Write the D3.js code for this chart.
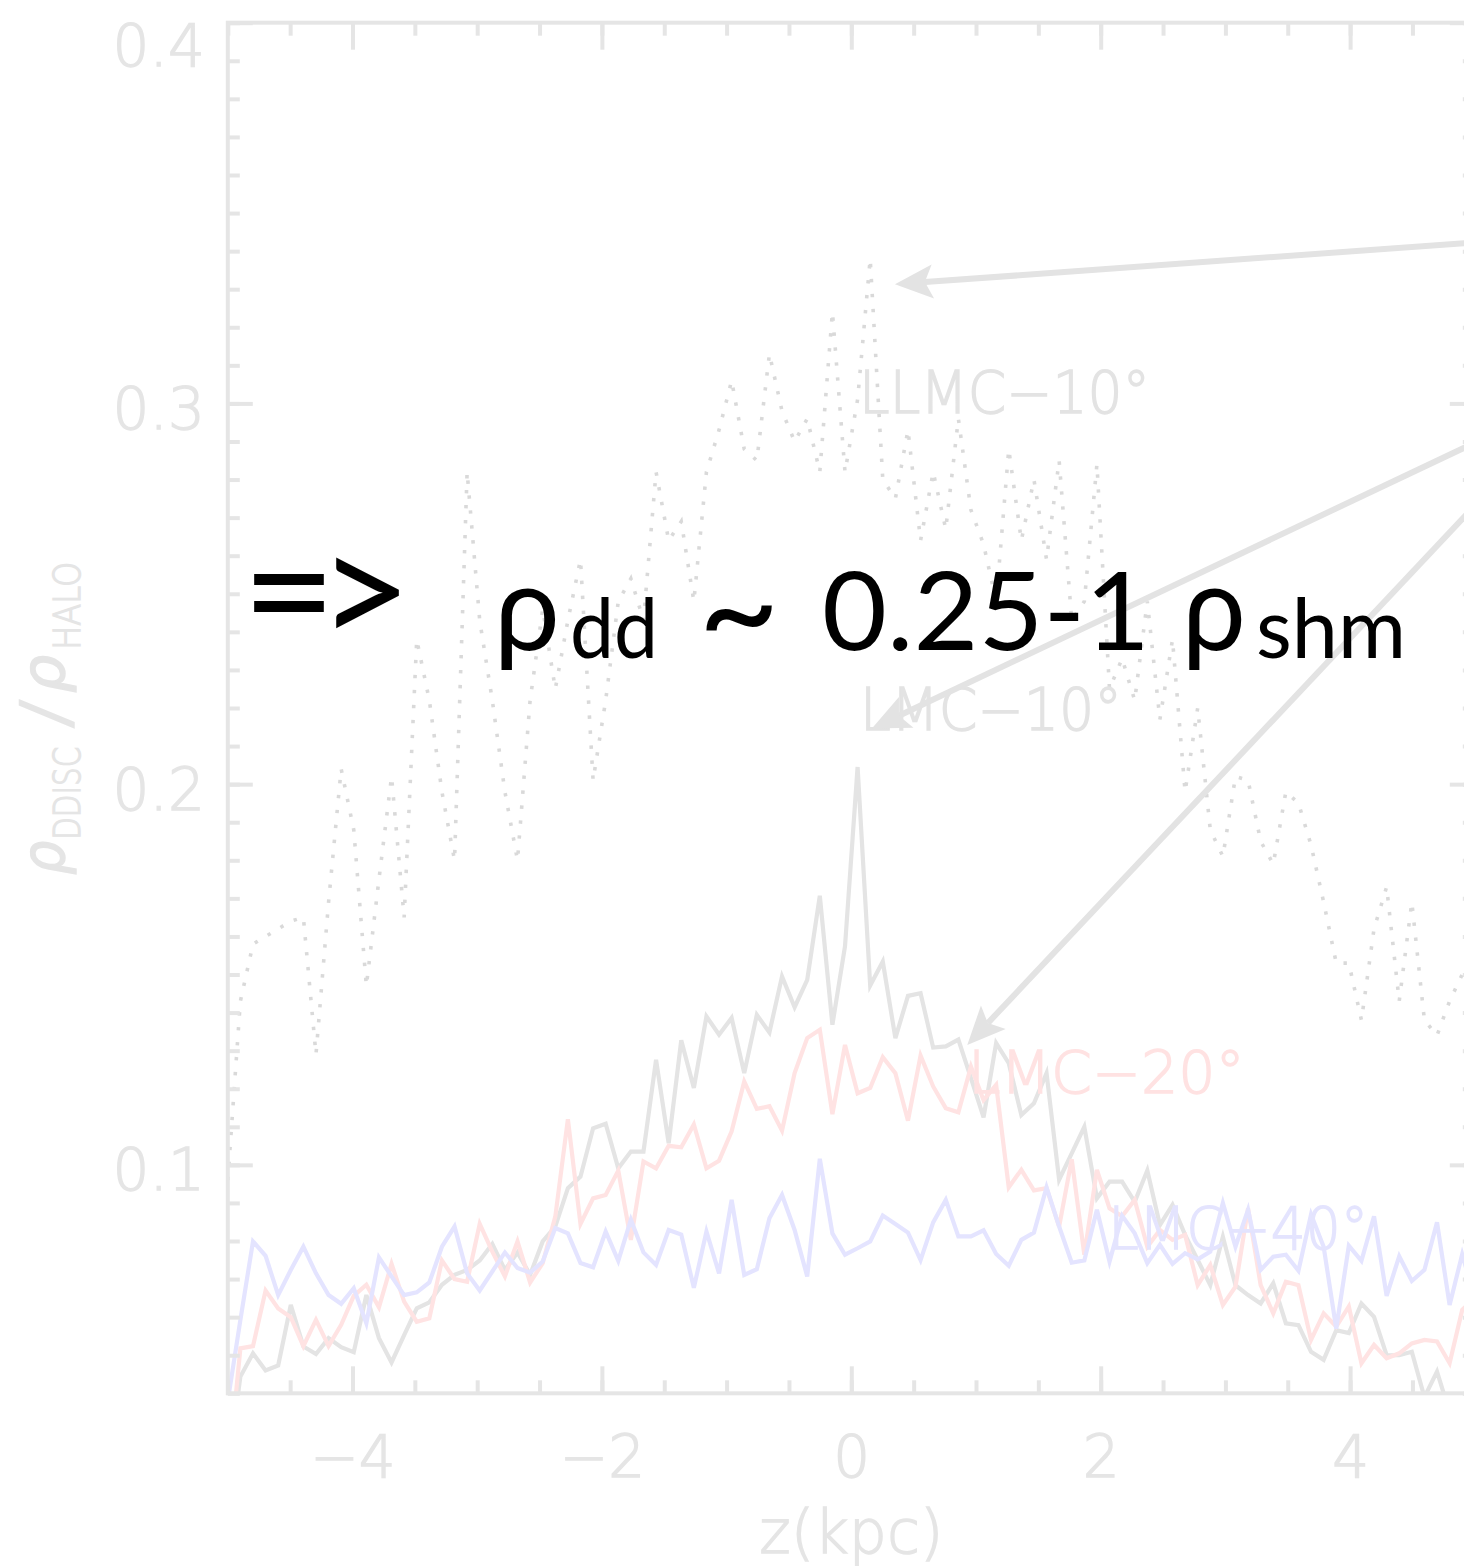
<!DOCTYPE html>
<html>
<head>
<meta charset="utf-8">
<script src="https://cdn.jsdelivr.net/npm/d3@7"></script>
<style>
  html, body { margin: 0; padding: 0; background: #fff; }
  svg { display: block; }
</style>
</head>
<body>
<svg id="chart" width="1464" height="1566"></svg>
<script>
// Sampling grid along z (kpc): 100 samples spanning the full window
const zGrid = d3.range(100).map(i => -5 + i * 10 / 99);

// rho_DDISC / rho_HALO profiles
const llmc10 = [
  0.096, 0.143, 0.158, 0.160, 0.162, 0.164, 0.165, 0.129, 0.169, 0.204,
  0.188, 0.147, 0.175, 0.202, 0.165, 0.238, 0.222, 0.198, 0.180, 0.282,
  0.243, 0.222, 0.198, 0.180, 0.222, 0.246, 0.225, 0.243, 0.259, 0.201,
  0.222, 0.248, 0.254, 0.243, 0.282, 0.264, 0.269, 0.248, 0.282, 0.293,
  0.306, 0.288, 0.285, 0.313, 0.298, 0.290, 0.296, 0.282, 0.324, 0.282,
  0.301, 0.338, 0.280, 0.275, 0.293, 0.264, 0.282, 0.267, 0.296, 0.272,
  0.263, 0.248, 0.288, 0.264, 0.280, 0.259, 0.285, 0.243, 0.248, 0.284,
  0.225, 0.233, 0.222, 0.248, 0.217, 0.238, 0.198, 0.220, 0.188, 0.181,
  0.202, 0.201, 0.185, 0.179, 0.198, 0.195, 0.184, 0.169, 0.153, 0.153,
  0.138, 0.162, 0.173, 0.143, 0.169, 0.138, 0.134, 0.143, 0.150, 0.155
];
const lmc10 = [
  0.020, 0.0444, 0.0505, 0.0460, 0.0473, 0.0632, 0.0523, 0.0503, 0.0545, 0.0521,
  0.0508, 0.0658, 0.0545, 0.0481, 0.0553, 0.0623, 0.0639, 0.0685, 0.0711, 0.0724,
  0.0749, 0.0792, 0.0724, 0.0770, 0.0711, 0.0799, 0.0838, 0.0939, 0.0969, 0.1096,
  0.1108, 0.0991, 0.1035, 0.1035, 0.1276, 0.1057, 0.1327, 0.1202, 0.1390, 0.1342,
  0.1386, 0.1241, 0.1394, 0.1348, 0.1495, 0.1414, 0.1486, 0.1707, 0.1368, 0.1574,
  0.2045, 0.1471, 0.1534, 0.1333, 0.1444, 0.1451, 0.1308, 0.1311, 0.1329, 0.1228,
  0.1125, 0.1320, 0.1267, 0.1131, 0.1162, 0.1241, 0.0961, 0.1030, 0.1100, 0.0912,
  0.0956, 0.0956, 0.0903, 0.0985, 0.0842, 0.0895, 0.0816, 0.0750, 0.0684, 0.0811,
  0.0684, 0.0658, 0.0636, 0.0689, 0.0584, 0.0579, 0.0509, 0.0488, 0.0566, 0.0558,
  0.0636, 0.0601, 0.0500, 0.0500, 0.0509, 0.0390, 0.0457, 0.0350, 0.0360, 0.0380
];
const lmc20 = [
  0.018, 0.0518, 0.0524, 0.0670, 0.0623, 0.0600, 0.0524, 0.0593, 0.0524, 0.0580,
  0.0656, 0.0685, 0.0626, 0.0740, 0.0641, 0.0588, 0.0597, 0.0749, 0.0700, 0.0693,
  0.0845, 0.0772, 0.0707, 0.0799, 0.0691, 0.0742, 0.0864, 0.1120, 0.0845, 0.0912,
  0.0921, 0.0985, 0.0803, 0.1009, 0.0991, 0.1050, 0.1046, 0.1106, 0.0991, 0.1011,
  0.1088, 0.1219, 0.1147, 0.1154, 0.1090, 0.1241, 0.1333, 0.1355, 0.1133, 0.1315,
  0.1188, 0.1202, 0.1283, 0.1241, 0.1116, 0.1287, 0.1206, 0.1149, 0.1138, 0.1258,
  0.1170, 0.1210, 0.0941, 0.0987, 0.0933, 0.0939, 0.0838, 0.1015, 0.0764, 0.0987,
  0.0886, 0.0865, 0.0908, 0.0785, 0.0829, 0.0803, 0.0816, 0.0684, 0.0737, 0.0632,
  0.0680, 0.0886, 0.0684, 0.0610, 0.0693, 0.0684, 0.0540, 0.0610, 0.0575, 0.0628,
  0.0479, 0.0527, 0.0492, 0.0505, 0.0531, 0.0540, 0.0536, 0.0479, 0.0619, 0.0650
];
const lmc40 = [
  0.038, 0.0593, 0.0799, 0.0761, 0.0658, 0.0724, 0.0785, 0.0715, 0.0658, 0.0635,
  0.0676, 0.0584, 0.0757, 0.0707, 0.0658, 0.0665, 0.0691, 0.0785, 0.0838, 0.0715,
  0.0670, 0.0720, 0.0770, 0.0729, 0.0717, 0.0746, 0.0834, 0.0820, 0.0742, 0.0731,
  0.0825, 0.0748, 0.0856, 0.0770, 0.0737, 0.0829, 0.0817, 0.0677, 0.0825, 0.0715,
  0.0908, 0.0711, 0.0726, 0.0860, 0.0921, 0.0829, 0.0707, 0.1016, 0.0820, 0.0764,
  0.0781, 0.0799, 0.0867, 0.0845, 0.0822, 0.0750, 0.0849, 0.0908, 0.0812, 0.0812,
  0.0828, 0.0766, 0.0735, 0.0803, 0.0822, 0.0941, 0.0838, 0.0743, 0.0749, 0.0882,
  0.0746, 0.0866, 0.0820, 0.0742, 0.0790, 0.0740, 0.0768, 0.0752, 0.0772, 0.0900,
  0.0785, 0.0882, 0.0724, 0.0759, 0.0764, 0.0722, 0.0870, 0.0785, 0.0570, 0.0788,
  0.0748, 0.0865, 0.0656, 0.0760, 0.0695, 0.0724, 0.0849, 0.0632, 0.0765, 0.0650
];

// Axis ticks
const xMajorTicks = [-4, -2, 0, 2, 4];
const xMinorTicks = d3.range(-5, 5.01, 0.5);
const yMajorTicks = [0.1, 0.2, 0.3, 0.4];
const yMinorTicks = d3.range(4, 41).map(k => k / 100);

// Curve labels: [text, z, rho, colour, width]
const curveLabels = [
  ["LLMC\u221210\u00b0", 0.062, 0.2976, "#e3e3e3", 291],
  ["LMC\u221210\u00b0", 0.07, 0.2141, "#e3e3e3", 262],
  ["LMC\u221220\u00b0", 0.935, 0.1190, "#ffe2e2", 277],
  ["LMC\u221240\u00b0", 2.06, 0.0779, "#e4e4fe", 260]
];
// Pointer arrows: tail (z, rho) -> head (z, rho)
const pointers = [
  [[5.6, 0.3437], [0.35, 0.3313]],
  [[5.6, 0.2990], [0.165, 0.2146]],
  [[5.6, 0.2940], [0.93, 0.1315]]
];

const svg = d3.select("#chart");
const W = 1464, H = 1566;
svg.append("rect").attr("width", W).attr("height", H).attr("fill", "#fff");

const pL = 227.8, pR = 1474.8, pT = 22.7, pB = 1393.3;
const x = d3.scaleLinear().domain([-5, 5]).range([pL, pR]);
const y = d3.scaleLinear().domain([0.04, 0.4]).range([pB, pT]);

const axisCol = "#e5e5e5";
const labelFont = "'DejaVu Sans', sans-serif";
const labelWeight = 200;

// Light label text, thickened slightly with a matching outline
function lightText(sel, col) {
  return sel.attr("font-family", labelFont).attr("font-weight", labelWeight)
    .attr("fill", col).attr("stroke", col).attr("stroke-width", 1.4);
}

svg.append("defs").append("clipPath").attr("id", "plotclip")
  .append("rect").attr("x", pL).attr("y", pT)
  .attr("width", pR - pL).attr("height", pB - pT);

// Curves
const line = d3.line().x((d, i) => x(zGrid[i])).y(d => y(d));
const plot = svg.append("g").attr("clip-path", "url(#plotclip)");

plot.append("path").datum(llmc10).attr("d", line)
  .attr("fill", "none").attr("stroke", "#d9d9d9").attr("stroke-width", 3.6)
  .attr("stroke-dasharray", "3.4 11.6");
plot.append("path").datum(lmc10).attr("d", line)
  .attr("fill", "none").attr("stroke", "#e4e4e4").attr("stroke-width", 4.2);
plot.append("path").datum(lmc20).attr("d", line)
  .attr("fill", "none").attr("stroke", "#ffe3e3").attr("stroke-width", 4.2);
plot.append("path").datum(lmc40).attr("d", line)
  .attr("fill", "none").attr("stroke", "#e4e4ff").attr("stroke-width", 4.2);

// Frame and ticks (inward, mirrored on all sides)
function styleAxis(g) {
  g.select(".domain").remove();
  g.selectAll(".tick line").attr("stroke", axisCol).attr("stroke-width", 4);
  g.selectAll("text").call(lightText, axisCol).attr("font-size", 58);
}

svg.append("g").attr("transform", `translate(0,${pB})`)
  .call(d3.axisBottom(x).tickValues(xMinorTicks).tickSize(-13).tickFormat(""))
  .call(styleAxis);
svg.append("g").attr("transform", `translate(0,${pB})`)
  .call(d3.axisBottom(x).tickValues(xMajorTicks).tickSize(-27).tickPadding(43))
  .call(styleAxis);
svg.append("g").attr("transform", `translate(0,${pT})`)
  .call(d3.axisTop(x).tickValues(xMinorTicks).tickSize(-13).tickFormat(""))
  .call(styleAxis);
svg.append("g").attr("transform", `translate(0,${pT})`)
  .call(d3.axisTop(x).tickValues(xMajorTicks).tickSize(-27).tickFormat(""))
  .call(styleAxis);

svg.append("g").attr("transform", `translate(${pL},0)`)
  .call(d3.axisLeft(y).tickValues(yMinorTicks).tickSize(-12).tickFormat(""))
  .call(styleAxis);
const yLab = svg.append("g").attr("transform", `translate(${pL},0)`)
  .call(d3.axisLeft(y).tickValues(yMajorTicks).tickSize(-25).tickPadding(23)
    .tickFormat(d3.format(".1f")))
  .call(styleAxis);
yLab.selectAll("text").attr("dy", d => d === 0.4 ? "0.73em" : "0.43em");
svg.append("g").attr("transform", `translate(${pR},0)`)
  .call(d3.axisRight(y).tickValues(yMinorTicks).tickSize(-12).tickFormat(""))
  .call(styleAxis);
svg.append("g").attr("transform", `translate(${pR},0)`)
  .call(d3.axisRight(y).tickValues(yMajorTicks).tickSize(-25).tickFormat(""))
  .call(styleAxis);

svg.append("rect").attr("x", pL).attr("y", pT)
  .attr("width", pR - pL).attr("height", pB - pT)
  .attr("fill", "none").attr("stroke", axisCol).attr("stroke-width", 4);

// Axis titles
svg.append("text").attr("x", x(0)).attr("y", 1553)
  .attr("text-anchor", "middle").attr("font-size", 60)
  .call(lightText, axisCol)
  .text("z(kpc)");

// Rotated y title, built piece by piece along the rotated baseline
const yt = svg.append("g")
  .attr("transform", `translate(64,${y(0.1762)}) rotate(-90)`);
const ytPieces = [
  // [text, offset along baseline, font size, baseline shift, length, italic]
  ["\u03c1", 0, 58, 0, 34, true],
  ["DDISC", 35, 38, 16, 93, false],
  ["/", 146, 66, 4, 30, false],
  ["\u03c1", 182, 58, 0, 38, true],
  ["HALO", 225, 38, 16, 88, false]
];
ytPieces.forEach(([t, off, fs, dy, len, it]) => {
  yt.append("text").attr("x", off).attr("y", dy).attr("font-size", fs)
    .call(lightText, axisCol)
    .attr("font-style", it ? "italic" : "normal")
    .attr("textLength", len).attr("lengthAdjust", "spacingAndGlyphs").text(t);
});

// Curve labels
svg.selectAll("text.curve-label").data(curveLabels).join("text")
  .attr("class", "curve-label")
  .attr("x", d => x(d[1])).attr("y", d => y(d[2]))
  .each(function (d) { d3.select(this).call(lightText, d[3]); })
  .attr("font-size", 58)
  .attr("textLength", d => d[4]).attr("lengthAdjust", "spacingAndGlyphs")
  .text(d => d[0]);

// Pointer arrows
const arrowCol = "#e3e3e3";
pointers.forEach(([t, h]) => {
  const x0 = x(t[0]), y0 = y(t[1]), x1 = x(h[0]), y1 = y(h[1]);
  const a = Math.atan2(y1 - y0, x1 - x0);
  const L = 38, hw = 17, notch = 30;
  const bx = x1 - L * Math.cos(a), by = y1 - L * Math.sin(a);
  svg.append("line").attr("x1", x0).attr("y1", y0)
    .attr("x2", x1 - notch * Math.cos(a)).attr("y2", y1 - notch * Math.sin(a))
    .attr("stroke", arrowCol).attr("stroke-width", 6);
  svg.append("polygon")
    .attr("points", [
      [x1, y1],
      [bx + hw * Math.sin(a), by - hw * Math.cos(a)],
      [x1 - notch * Math.cos(a), y1 - notch * Math.sin(a)],
      [bx - hw * Math.sin(a), by + hw * Math.cos(a)]
    ].map(p => p.join(",")).join(" "))
    .attr("fill", arrowCol);
});

// Headline statement
const big = svg.append("g").attr("fill", "#000")
  .attr("font-family", "Lato, 'Open Sans', sans-serif");

// "=>" as one tightly spaced run
big.append("text").attr("x", 242).attr("y", 647).attr("font-size", 162)
  .attr("letter-spacing", -18).text("=>");

const pieces = [
  // [text, x, baseline, font size, width or null]
  ["\u03c1", 494, 650, 118, 66],
  ["dd", 570, 658, 84, 88],
  ["~", 698, 660, 141, null],
  ["0.25-1", 822, 650, 108, 328],
  ["\u03c1", 1182, 650, 118, 64],
  ["shm", 1256, 658, 84, 150]
];
pieces.forEach(([t, px, py, fs, w]) => {
  const el = big.append("text").attr("x", px).attr("y", py).attr("font-size", fs).text(t);
  if (w) el.attr("textLength", w).attr("lengthAdjust", "spacingAndGlyphs");
});
</script>
</body>
</html>
